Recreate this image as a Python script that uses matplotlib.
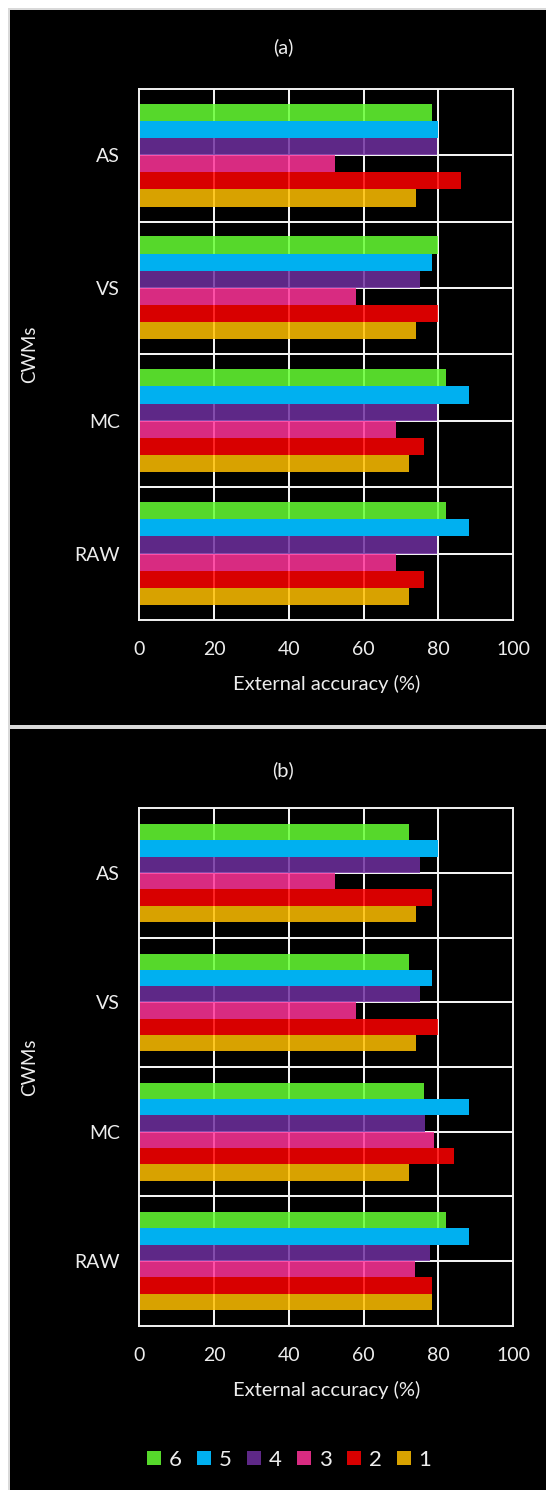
import matplotlib
matplotlib.use("Agg")
import matplotlib.pyplot as plt
from matplotlib.patches import Rectangle, Patch

plt.rcParams['font.family'] = ['Lato', 'DejaVu Sans']

# Community-weighted mean variants, listed bottom to top on the y axis
cwms = ["RAW", "MC", "VS", "AS"]
series_names = ["1", "2", "3", "4", "5", "6"]
x_ticks = [0, 20, 40, 60, 80, 100]

# Panel (a): external accuracy (%) per series, in the order RAW, MC, VS, AS
a_s1 = [72.1, 72.1, 74.0, 74.0]
a_s2 = [76.1, 76.1, 79.8, 86.0]
a_s3 = [68.6, 68.6, 57.9, 52.3]
a_s4 = [79.5, 79.5, 75.0, 79.5]
a_s5 = [88.1, 88.1, 78.3, 79.8]
a_s6 = [82.0, 82.0, 79.8, 78.3]

# Panel (b)
b_s1 = [78.3, 72.1, 74.0, 74.0]
b_s2 = [78.3, 84.1, 79.8, 78.3]
b_s3 = [73.7, 78.8, 57.9, 52.3]
b_s4 = [77.7, 76.4, 75.0, 75.0]
b_s5 = [88.1, 88.1, 78.3, 79.8]
b_s6 = [82.0, 76.1, 72.1, 72.1]

colors = ["#FFC000", "#FF0000", "#FF3399", "#7030A0", "#00B0F0", "#66FF33"]
alphas = [0.85, 0.85, 0.85, 0.85, 1.0, 0.85]

W, H = 546, 1490
DPI = 100
TXT = "#EDEDED"
GRID = "#F2F2F2"
BORDER = "#D9D9D9"


def fx(x):
    return x / W


def fy(y):
    return 1 - y / H


fig = plt.figure(figsize=(W / DPI, H / DPI), dpi=DPI, facecolor="white")

# Two stacked black chart panels with a light grey frame
lw_border = 2 * 72 / DPI
fig.add_artist(Rectangle((fx(9), fy(726.3)), fx(600), fy(9) - fy(726.3),
                         transform=fig.transFigure, facecolor="black",
                         edgecolor=BORDER, linewidth=lw_border, zorder=0))
fig.add_artist(Rectangle((fx(9), fy(1600)), fx(600), fy(728.3) - fy(1600),
                         transform=fig.transFigure, facecolor="black",
                         edgecolor=BORDER, linewidth=lw_border, zorder=0))


def draw_panel(rect_px, series, span, title, title_y):
    left, top, right, bottom = rect_px
    ax = fig.add_axes([fx(left), fy(bottom), (right - left) / W, (bottom - top) / H])
    ax.set_facecolor("none")
    ax.set_xlim(0, 100)
    ax.set_ylim(-0.5, len(cwms) - 0.5)

    # grid: vertical at ticks, horizontal at category centres and boundaries
    for v in x_ticks[1:-1]:
        ax.axvline(v, color=GRID, lw=1.45, zorder=1)
    for k in range(len(cwms)):
        ax.axhline(k, color=GRID, lw=1.45, zorder=1)
    for k in range(len(cwms) - 1):
        ax.axhline(k + 0.5, color=GRID, lw=1.45, zorder=1)

    h = span / len(series)
    handles = []
    for i, vals in enumerate(series):
        ys = [k + (i - (len(series) - 1) / 2) * h for k in range(len(cwms))]
        bars = ax.barh(ys, vals, height=h, color=colors[i], alpha=alphas[i],
                       linewidth=0, zorder=2, label=series_names[i])
        handles.append(bars)

    ax.set_xticks(x_ticks)
    ax.set_xticklabels([str(t) for t in x_ticks])
    ax.set_yticks(range(len(cwms)))
    ax.set_yticklabels(cwms)
    ax.tick_params(axis="both", length=0, colors=TXT, labelsize=14)
    ax.tick_params(axis="x", pad=15)
    ax.tick_params(axis="y", pad=14)
    for s in ax.spines.values():
        s.set_color(GRID)
        s.set_linewidth(1.4)
        s.set_zorder(3)

    ax.set_xlabel("External accuracy (%)", color=TXT, fontsize=14.5)
    ax.xaxis.set_label_coords(0.5, -64 / (bottom - top))
    ax.xaxis.label.set_verticalalignment("center")

    fig.text(fx(30), fy((top + bottom) / 2), "CWMs", rotation=90, color=TXT,
             fontsize=13.5, ha="center", va="center")
    fig.text(fx(283), fy(title_y), title, color=TXT, fontsize=14.5,
             ha="center", va="center")
    return handles


draw_panel((139.3, 88.7, 513.3, 620.0),
           [a_s1, a_s2, a_s3, a_s4, a_s5, a_s6], 0.776, "(a)", 47)
handles = draw_panel((139.3, 808.4, 513.3, 1325.7),
                     [b_s1, b_s2, b_s3, b_s4, b_s5, b_s6], 0.756, "(b)", 770.6)

# Legend lists the series from 6 down to 1
leg_handles = [Patch(facecolor=colors[i], alpha=alphas[i], linewidth=0)
               for i in reversed(range(len(series_names)))]
leg_labels = [series_names[i] for i in reversed(range(len(series_names)))]
leg = fig.legend(leg_handles, leg_labels, loc="center",
                 bbox_to_anchor=(fx(289), fy(1459.6)), ncol=6, frameon=False,
                 fontsize=16, handlelength=0.63, handleheight=0.63,
                 handletextpad=0.36, columnspacing=0.68, borderpad=0)
for t in leg.get_texts():
    t.set_color(TXT)

fig.savefig("out.png", dpi=DPI, facecolor=fig.get_facecolor())
